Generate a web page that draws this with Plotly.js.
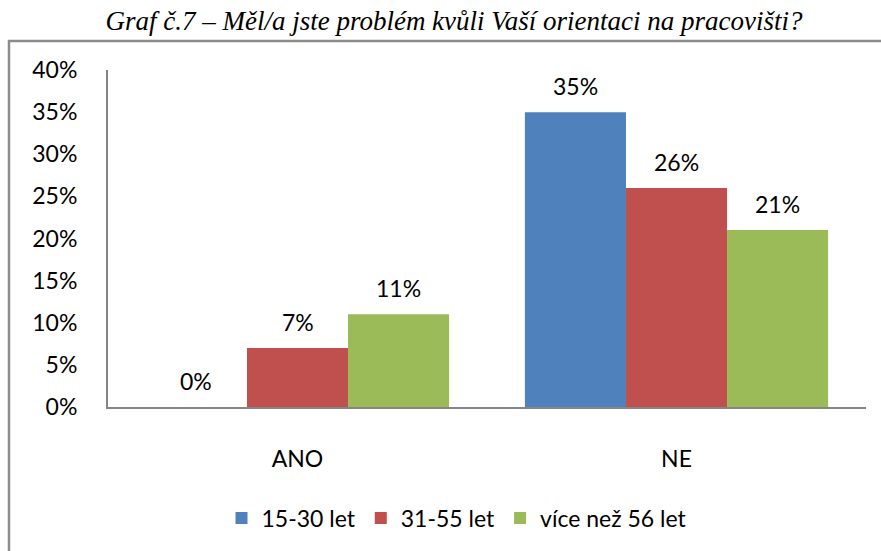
<!DOCTYPE html>
<html>
<head>
<meta charset="utf-8">
<script src="https://cdn.plot.ly/plotly-3.0.1.min.js"></script>
<style>html,body{margin:0;padding:0;background:#fff;}#chart{width:881px;height:551px;}</style>
</head>
<body>
<div id="chart"></div>
<script>
const categories = ["ANO", "NE"];
const seriesNames = ["15-30 let", "31-55 let", "více než 56 let"];
const series1 = [0, 35];   // 15-30 let
const series2 = [7, 26];   // 31-55 let
const series3 = [11, 21];  // více než 56 let
const yTickVals = [0, 5, 10, 15, 20, 25, 30, 35, 40];
const yTickText = ["0%", "5%", "10%", "15%", "20%", "25%", "30%", "35%", "40%"];
const titleText = "Graf č.7 – Měl/a jste problém kvůli Vaší orientaci na pracovišti?";

const colors = ["#4F81BD", "#C0504D", "#9BBB59"];
const allSeries = [series1, series2, series3];
const FONT = "Lato, 'Noto Sans', sans-serif";
const FS = 23;

const traces = allSeries.map((vals, i) => ({
  type: "bar",
  name: seriesNames[i],
  x: categories,
  y: vals,
  marker: { color: colors[i] },
  hoverinfo: "skip"
}));

const plotW = 881 - 108 - 15;
const barW = plotW / categories.length * 0.8 / 3;
const annotations = [];
allSeries.forEach((vals, i) => {
  vals.forEach((v, j) => {
    annotations.push({
      x: categories[j], y: v, xref: "x", yref: "y",
      text: v + "%", showarrow: false,
      xshift: (i - 1) * barW, yshift: 26,
      font: { family: FONT, size: FS, color: "#000" }
    });
  });
});

const layout = {
  width: 881, height: 551,
  margin: { l: 108, r: 15, t: 70, b: 144 },
  paper_bgcolor: "#fff", plot_bgcolor: "#fff",
  font: { family: FONT, size: FS, color: "#000" },
  title: {
    text: titleText,
    font: { family: "'Liberation Serif', 'Times New Roman', serif", size: 27, style: "italic", color: "#000" },
    x: 454 / 881, xanchor: "center", xref: "container",
    y: 1 - 21 / 551, yanchor: "middle", yref: "container"
  },
  barmode: "group",
  bargap: 0.2, bargroupgap: 0,
  showlegend: true,
  legend: {
    orientation: "h", x: 457 / 881, xanchor: "center", xref: "container",
    y: 1 - 518 / 551, yanchor: "middle", yref: "container",
    font: { family: FONT, size: FS, color: "#000" },
    tracegroupgap: 0
  },
  xaxis: {
    type: "category",
    showline: true, linecolor: "#868686", linewidth: 2,
    showgrid: false, ticks: "", ticklabelstandoff: 30,
    tickfont: { family: FONT, size: FS, color: "#000" },
    fixedrange: true
  },
  yaxis: {
    range: [0, 40],
    tickvals: yTickVals, ticktext: yTickText,
    showline: true, linecolor: "#868686", linewidth: 2,
    showgrid: false, zeroline: false, ticks: "", ticklabelstandoff: 24,
    tickfont: { family: FONT, size: FS, color: "#000" },
    fixedrange: true
  },
  annotations: annotations,
  shapes: [{
    type: "rect", xref: "paper", yref: "paper",
    x0: (9 - 108) / plotW, x1: (900 - 108) / plotW,
    y0: (407 - 570) / 337, y1: (407 - 41) / 337,
    line: { color: "#8c8c8c", width: 2.5 }, fillcolor: "rgba(0,0,0,0)", layer: "below"
  }]
};

Plotly.newPlot("chart", traces, layout, { displayModeBar: false, staticPlot: true });
</script>
</body>
</html>
